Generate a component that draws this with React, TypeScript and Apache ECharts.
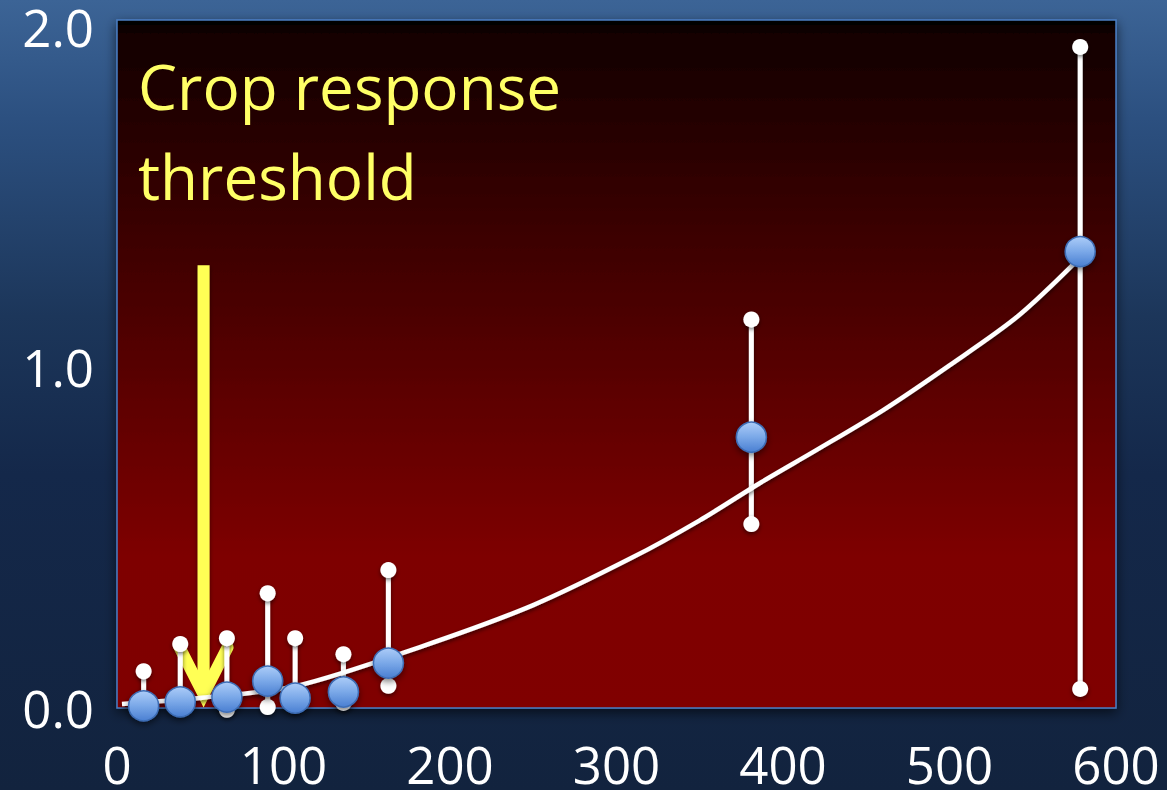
import React, { useEffect, useRef } from "react";
import * as echarts from "echarts";

// Mean points: [x, mean, low, high]
const POINT_X = [16, 38, 66, 90.5, 107, 136, 163, 381, 578.5];
const POINT_MEAN = [0.006, 0.018, 0.032, 0.079, 0.029, 0.047, 0.132, 0.795, 1.34];
const POINT_LOW = [0.0, 0.005, -0.005, 0.003, 0.01, 0.015, 0.065, 0.54, 0.056];
const POINT_HIGH = [0.108, 0.188, 0.205, 0.337, 0.205, 0.158, 0.405, 1.141, 1.941];

// Fitted response curve
const TREND_X = [3, 51, 108, 182, 250, 310, 350, 386, 420, 460, 500, 541, 578];
const TREND_Y = [0.012, 0.03, 0.065, 0.179, 0.302, 0.443, 0.551, 0.66, 0.757, 0.874, 1.006, 1.15, 1.32];

const X_TICKS = [0, 100, 200, 300, 400, 500, 600];
const Y_TICKS = [0, 1, 2];

const THRESHOLD_X = 52;
const ARROW_TOP = 1.3;
const ARROW_TIP = 0.04;

const TITLE_LINES = ["Crop response", "threshold"];

const FONT = "'Open Sans', 'Noto Sans', sans-serif";

export default function App() {
  const ref = useRef<HTMLDivElement>(null);

  useEffect(() => {
    document.body.style.margin = "0";
    if (!ref.current) return;
    const chart = echarts.init(ref.current, null, { renderer: "svg" });

    const points = POINT_X.map((x, i) => [x, POINT_MEAN[i], POINT_LOW[i], POINT_HIGH[i]]);
    const trend = TREND_X.map((x, i) => [x, TREND_Y[i]]);

    const option: any = {
      animation: false,
      backgroundColor: "transparent",
      grid: {
        left: 117,
        top: 20,
        right: 51,
        bottom: 82,
        show: true,
        borderColor: "#4a7ec4",
        borderWidth: 1.5,
        backgroundColor: new echarts.graphic.LinearGradient(0, 0, 0, 1, [
          { offset: 0, color: "#000000" },
          { offset: 0.02, color: "#120000" },
          { offset: 0.3, color: "#3a0000" },
          { offset: 0.78, color: "#7e0000" },
          { offset: 1, color: "#800000" },
        ]),
        shadowColor: "rgba(0,0,0,0.6)",
        shadowBlur: 12,
        shadowOffsetY: 4,
      },
      xAxis: {
        type: "value",
        min: X_TICKS[0],
        max: X_TICKS[X_TICKS.length - 1],
        interval: 100,
        axisLine: { show: false },
        axisTick: { show: false },
        splitLine: { show: false },
        axisLabel: {
          color: "#ffffff",
          fontSize: 51,
          lineHeight: 42,
          fontFamily: FONT,
          margin: 35,
          showMaxLabel: true,
          showMinLabel: true,
          formatter: (v: number) => (X_TICKS.includes(v) ? String(v) : ""),
        },
      },
      yAxis: {
        type: "value",
        min: 0,
        max: 2.02,
        interval: 1,
        axisLine: { show: false },
        axisTick: { show: false },
        splitLine: { show: false },
        axisLabel: {
          color: "#ffffff",
          fontSize: 51,
          lineHeight: 42,
          fontFamily: FONT,
          margin: 23,
          formatter: (v: number) => (Y_TICKS.includes(v) ? v.toFixed(1) : ""),
        },
      },
      series: [
        {
          type: "custom",
          z: 2,
          data: points,
          renderItem: (params: any, api: any) => {
            const x = api.value(0);
            const lo = api.coord([x, api.value(2)]);
            const hi = api.coord([x, api.value(3)]);
            const shadow = { shadowColor: "rgba(0,0,0,0.55)", shadowBlur: 4, shadowOffsetY: 2 };
            return {
              type: "group",
              children: [
                {
                  type: "rect",
                  shape: { x: hi[0] - 2.5, y: hi[1], width: 5, height: lo[1] - hi[1] },
                  style: { fill: "#ffffff", ...shadow },
                },
                {
                  type: "circle",
                  shape: { cx: hi[0], cy: hi[1], r: 8 },
                  style: { fill: "#ffffff", ...shadow },
                },
                {
                  type: "circle",
                  shape: { cx: lo[0], cy: lo[1], r: 8 },
                  style: { fill: "#ffffff", ...shadow },
                },
              ],
            };
          },
        },
        {
          type: "line",
          z: 3,
          data: trend,
          smooth: 0.3,
          showSymbol: false,
          lineStyle: {
            color: "#ffffff",
            width: 4.5,
            shadowColor: "rgba(0,0,0,0.6)",
            shadowBlur: 4,
            shadowOffsetY: 2,
          },
        },
        {
          type: "scatter",
          z: 4,
          data: points.map((p) => [p[0], p[1]]),
          symbolSize: 30,
          itemStyle: {
            opacity: 1,
            color: new echarts.graphic.LinearGradient(0, 0, 0, 1, [
              { offset: 0, color: "#acccf8" },
              { offset: 0.5, color: "#7aa8e8" },
              { offset: 1, color: "#4a7fd2" },
            ]),
            borderColor: "#3d6db5",
            borderWidth: 1.5,
            shadowColor: "rgba(0,0,0,0.5)",
            shadowBlur: 6,
            shadowOffsetY: 3,
          },
        },
      ],
    };

    chart.setOption(option);

    const top = chart.convertToPixel({ gridIndex: 0 }, [THRESHOLD_X, ARROW_TOP]);
    const tip = chart.convertToPixel({ gridIndex: 0 }, [THRESHOLD_X, ARROW_TIP]);
    const ax = top[0];
    const yellow = "#ffff55";

    chart.setOption({
      graphic: [
        {
          type: "text",
          x: 138,
          y: 86,
          z: 10,
          style: {
            text: TITLE_LINES[0],
            fill: "#ffff66",
            fontSize: 62,
            fontFamily: FONT,
            verticalAlign: "middle",
          },
        },
        {
          type: "text",
          x: 138,
          y: 176,
          z: 10,
          style: {
            text: TITLE_LINES[1],
            fill: "#ffff66",
            fontSize: 62,
            fontFamily: FONT,
            verticalAlign: "middle",
          },
        },
        {
          type: "group",
          z: 10,
          children: [
            {
              type: "rect",
              shape: { x: ax - 6, y: top[1], width: 12, height: tip[1] - top[1] - 6 },
              style: { fill: yellow, shadowColor: "rgba(0,0,0,0.5)", shadowBlur: 4, shadowOffsetY: 2 },
            },
            {
              type: "polyline",
              shape: {
                points: [
                  [ax - 24, tip[1] - 47],
                  [ax, tip[1]],
                  [ax + 24, tip[1] - 47],
                ],
              },
              style: {
                stroke: yellow,
                lineWidth: 12,
                lineCap: "round",
                lineJoin: "miter",
                fill: null,
              },
            },
          ],
        },
      ],
    });

    return () => chart.dispose();
  }, []);

  return (
    <div
      ref={ref}
      style={{
        width: 1167,
        height: 790,
        background: "linear-gradient(180deg, #3c6496 0%, #2c5080 15%, #1c365a 40%, #14284a 60%, #12233e 100%)",
      }}
    />
  );
}
